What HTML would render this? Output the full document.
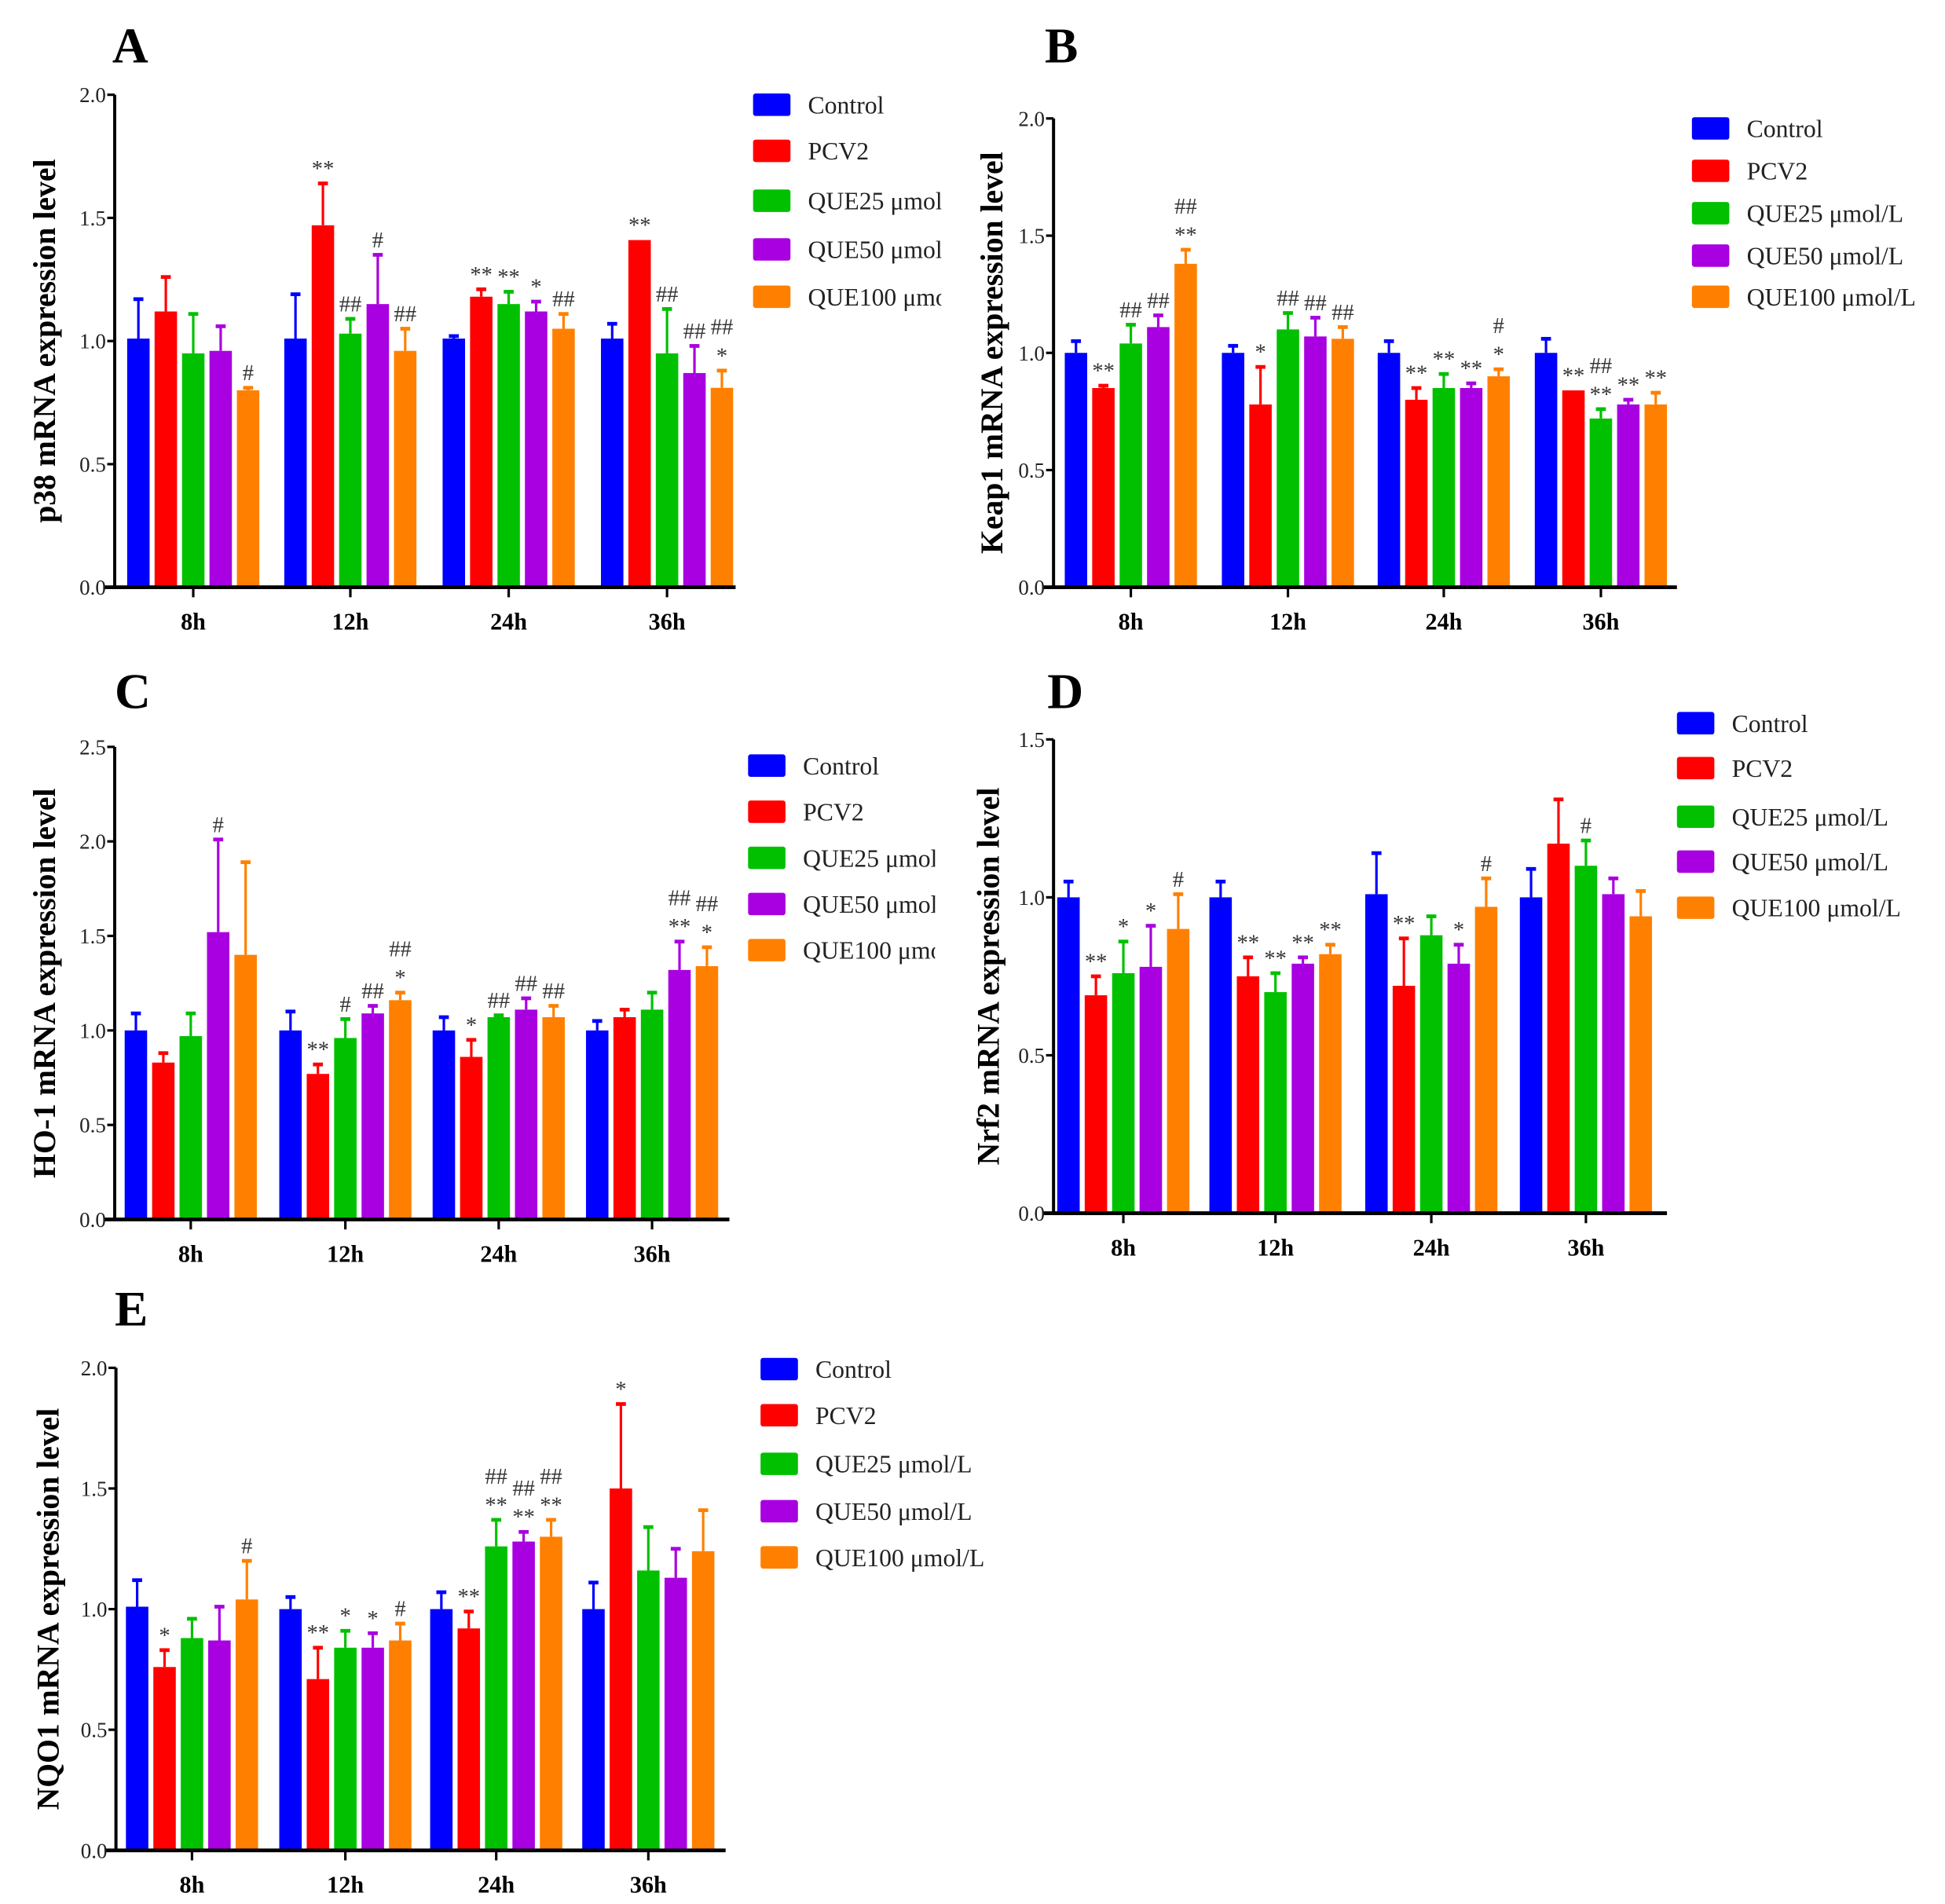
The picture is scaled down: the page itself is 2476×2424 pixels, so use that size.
<!DOCTYPE html>
<html><head><meta charset="utf-8">
<style>
html,body{margin:0;padding:0;background:#fff;}
svg{display:block;}
text{font-family:"Liberation Serif",serif;}
</style></head>
<body>
<svg id="s" width="2476" height="2424" viewBox="0 0 1560 1527" preserveAspectRatio="none" xmlns="http://www.w3.org/2000/svg"></svg>
<script>
const C=["#0000ff","#ff0000","#00c000","#a800e0","#ff8000"];
const P=[
{L:"A",lx:90,ly:50,ax:92,top:76,zero:471,end:590,max:2,ticks:[0,0.5,1,1.5,2],g:[155,281,408,535],
 yl:"p38 mRNA expression level",ylx:35,
 leg:{x:604,ys:[84,121,161,200,238],clip:755},
 d:[[[1.01,.16],[1.12,.14],[0.95,.16],[0.96,.10],[0.80,.01,["#"]]],
    [[1.01,.18],[1.47,.17,["**"]],[1.03,.06,["##"]],[1.15,.20,["#"]],[0.96,.09,["##"]]],
    [[1.01,.01],[1.18,.03,["**"]],[1.15,.05,["**"]],[1.12,.04,["*"]],[1.05,.06,["##"]]],
    [[1.01,.06],[1.41,0,["**"]],[0.95,.18,["##"]],[0.87,.11,["##"]],[0.81,.07,["##","*"]]]]},
{L:"B",lx:838,ly:50,ax:845,top:95,zero:471,end:1345,max:2,ticks:[0,0.5,1,1.5,2],g:[907,1033,1158,1284],
 yl:"Keap1 mRNA expression level",ylx:795,
 leg:{x:1357,ys:[103,137,171,205,238],clip:2000},
 d:[[[1.00,.05],[0.85,.01,["**"]],[1.04,.08,["##"]],[1.11,.05,["##"]],[1.38,.06,["##","**"]]],
    [[1.00,.03],[0.78,.16,["*"]],[1.10,.07,["##"]],[1.07,.08,["##"]],[1.06,.05,["##"]]],
    [[1.00,.05],[0.80,.05,["**"]],[0.85,.06,["**"]],[0.85,.02,["**"]],[0.90,.03,["#","*"]]],
    [[1.00,.06],[0.84,0,["**"]],[0.72,.04,["##","**"]],[0.78,.02,["**"]],[0.78,.05,["**"]]]]},
{L:"C",lx:92,ly:568,ax:92,top:599,zero:978,end:585,max:2.5,ticks:[0,0.5,1,1.5,2,2.5],g:[153,277,400,523],
 yl:"HO-1 mRNA expression level",ylx:35,
 leg:{x:600,ys:[614,651,688,725,762],clip:750},
 d:[[[1.00,.09],[0.83,.05],[0.97,.12],[1.52,.49,["#"]],[1.40,.49]],
    [[1.00,.10],[0.77,.05,["**"]],[0.96,.10,["#"]],[1.09,.04,["##"]],[1.16,.04,["##","*"]]],
    [[1.00,.07],[0.86,.09,["*"]],[1.07,.01,["##"]],[1.11,.06,["##"]],[1.07,.06,["##"]]],
    [[1.00,.05],[1.07,.04],[1.11,.09],[1.32,.15,["##","**"]],[1.34,.10,["##","*"]]]]},
{L:"D",lx:840,ly:568,ax:845,top:593,zero:973,end:1337,max:1.5,ticks:[0,0.5,1,1.5],g:[901,1023,1148,1272],
 yl:"Nrf2 mRNA expression level",ylx:792,
 leg:{x:1345,ys:[580,616,655,691,728],clip:2000},
 d:[[[1.00,.05],[0.69,.06,["**"]],[0.76,.10,["*"]],[0.78,.13,["*"]],[0.90,.11,["#"]]],
    [[1.00,.05],[0.75,.06,["**"]],[0.70,.06,["**"]],[0.79,.02,["**"]],[0.82,.03,["**"]]],
    [[1.01,.13],[0.72,.15,["**"]],[0.88,.06],[0.79,.06,["*"]],[0.97,.09,["#"]]],
    [[1.00,.09],[1.17,.14],[1.10,.08,["#"]],[1.01,.05],[0.94,.08]]]},
{L:"E",lx:92,ly:1063,ax:93,top:1097,zero:1484,end:582,max:2,ticks:[0,0.5,1,1.5,2],g:[154,277,398,520],
 yl:"NQO1 mRNA expression level",ylx:38,
 leg:{x:610,ys:[1098,1135,1174,1212,1249],clip:2000},
 d:[[[1.01,.11],[0.76,.07,["*"]],[0.88,.08],[0.87,.14],[1.04,.16,["#"]]],
    [[1.00,.05],[0.71,.13,["**"]],[0.84,.07,["*"]],[0.84,.06,["*"]],[0.87,.07,["#"]]],
    [[1.00,.07],[0.92,.07,["**"]],[1.26,.11,["##","**"]],[1.28,.04,["##","**"]],[1.30,.07,["##","**"]]],
    [[1.00,.11],[1.50,.35,["*"]],[1.16,.18],[1.13,.12],[1.24,.17]]]}
];
const names=["Control","PCV2","QUE25 μmol/L","QUE50 μmol/L","QUE100 μmol/L"];
const times=["8h","12h","24h","36h"];
let h="";let ci=0;
for(const p of P){
  const k=(p.zero-p.top)/p.max;
  const Y=v=>p.zero-v*k;
  h+=`<text x="${p.lx}" y="${p.ly}" font-size="40" font-weight="bold">${p.L}</text>`;
  p.d.forEach((grp,gi)=>{
    grp.forEach((b,i)=>{
      const cx=p.g[gi]+(i-2)*22, w=18;
      const yt=Y(b[0]), ye=Y(b[0]+b[1]);
      h+=`<rect x="${cx-w/2}" y="${yt}" width="${w}" height="${p.zero-yt}" fill="${C[i]}"/>`;
      if(b[1]>0){h+=`<line x1="${cx}" x2="${cx}" y1="${yt}" y2="${ye}" stroke="${C[i]}" stroke-width="2"/>`;
        h+=`<line x1="${cx-4}" x2="${cx+4}" y1="${ye}" y2="${ye}" stroke="${C[i]}" stroke-width="3"/>`;}
      if(b[2]){const lines=b[2];const n=lines.length;
        lines.forEach((t,j)=>{const yy=ye-6-(n-1-j)*23;
          h+=`<text x="${cx}" y="${yy}" font-size="18" text-anchor="middle" fill="#333">${t}</text>`;});}
    });
  });
  h+=`<line x1="${p.ax}" x2="${p.ax}" y1="${p.top}" y2="${p.zero+1}" stroke="#000" stroke-width="2.5"/>`;
  h+=`<line x1="${p.ax-8}" x2="${p.end}" y1="${p.zero}" y2="${p.zero}" stroke="#000" stroke-width="3"/>`;
  for(const t of p.ticks){const y=Y(t);
    h+=`<line x1="${p.ax-6}" x2="${p.ax}" y1="${y}" y2="${y}" stroke="#000" stroke-width="2"/>`;
    h+=`<text x="${p.ax-7}" y="${y+6}" font-size="17" text-anchor="end" fill="#222">${t.toFixed(1)}</text>`;}
  p.g.forEach((gx,gi)=>{
    h+=`<line x1="${gx}" x2="${gx}" y1="${p.zero}" y2="${p.zero+8}" stroke="#000" stroke-width="2"/>`;
    h+=`<text x="${gx}" y="${p.zero+34}" font-size="19" font-weight="bold" text-anchor="middle">${times[gi]}</text>`;});
  const cy=(p.top+p.zero)/2;
  h+=`<text transform="translate(${p.ylx+9},${cy}) rotate(-90)" font-size="25" font-weight="bold" text-anchor="middle">${p.yl}</text>`;
  const id="cl"+(ci++);
  h+=`<clipPath id="${id}"><rect x="0" y="0" width="${p.leg.clip}" height="1527"/></clipPath><g clip-path="url(#${id})">`;
  p.leg.ys.forEach((y,i)=>{
    h+=`<rect x="${p.leg.x}" y="${y-9}" width="30" height="18" rx="2" fill="${C[i]}"/>`;
    h+=`<text x="${p.leg.x+44}" y="${y+7}" font-size="20" fill="#222">${names[i]}</text>`;});
  h+=`</g>`;
}
document.getElementById("s").innerHTML=h;
</script>
</body></html>
